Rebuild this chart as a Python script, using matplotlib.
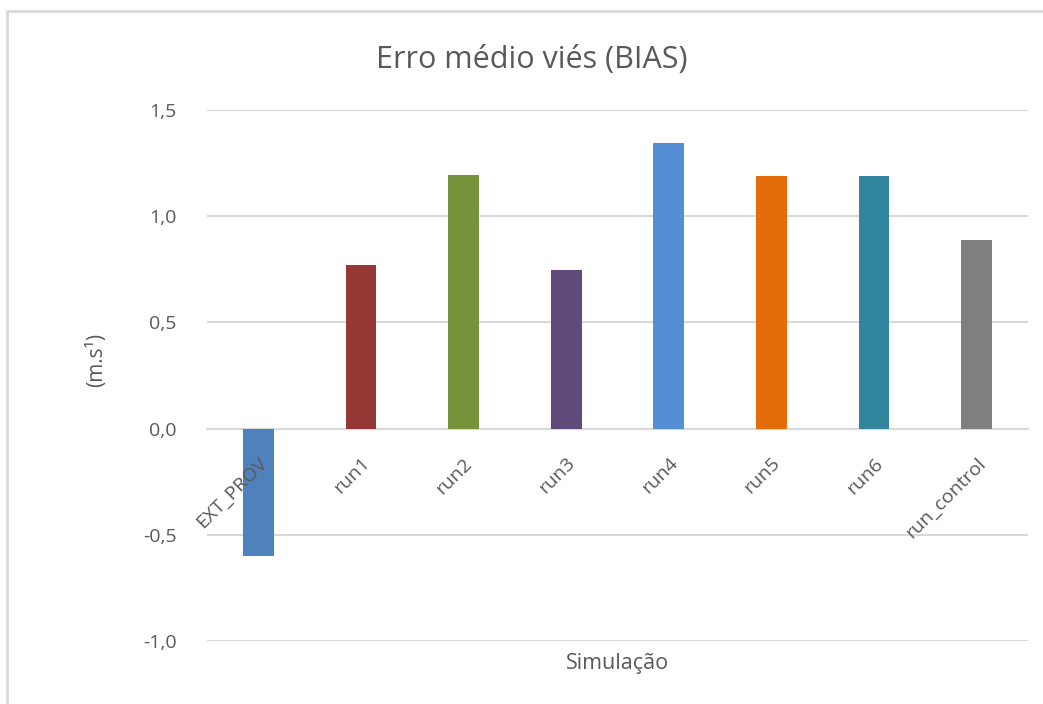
import matplotlib.pyplot as plt
from matplotlib.patches import Rectangle

# values
simulations = ['EXT_PROV', 'run1', 'run2', 'run3', 'run4', 'run5', 'run6', 'run_control']
bias = [-0.60, 0.77, 1.195, 0.748, 1.345, 1.19, 1.19, 0.889]
bar_colors = ['#4F81BD', '#953735', '#77933C', '#604A7B', '#558ED5', '#E46C0A', '#31859C', '#7F7F7F']
y_ticks = [-1.0, -0.5, 0.0, 0.5, 1.0, 1.5]

plt.rcParams['font.family'] = ['Open Sans', 'DejaVu Sans']
text_gray = '#595959'
grid_gray = '#D9D9D9'

fig = plt.figure(figsize=(10.43, 7.04), dpi=100)
ax = fig.add_axes([207 / 1043, 1 - 641 / 704, 821 / 1043, 531 / 704])

# outer chart frame (runs off the right and bottom edges)
fig.patches.append(Rectangle((7 / 1043, -0.1), 1.2, 1 - 11 / 704 + 0.1, transform=fig.transFigure,
                             fill=False, edgecolor=grid_gray, linewidth=2))

x = list(range(len(simulations)))
ax.bar(x, bias, width=0.30, color=bar_colors, zorder=3)

ax.set_xlim(-0.5, len(simulations) - 0.5)
ax.set_ylim(-1.0, 1.5)
ax.set_yticks(y_ticks)
ax.set_yticklabels([f'{v:.1f}'.replace('.', ',') for v in y_ticks])
ax.grid(axis='y', color=grid_gray, linewidth=1.5)
ax.set_axisbelow(True)
ax.xaxis.set_zorder(4)  # category labels sit on top of the bars

for side in ['top', 'right', 'left']:
    ax.spines[side].set_visible(False)
ax.spines['bottom'].set_position(('data', 0))
ax.spines['bottom'].set_color(grid_gray)
ax.spines['bottom'].set_linewidth(1.5)
ax.spines['bottom'].set_zorder(2)

ax.set_xticks([i + 0.06 for i in x])
ax.set_xticklabels(simulations, rotation=45, ha='right', va='center', rotation_mode='anchor')
ax.tick_params(axis='x', length=0, pad=23, labelsize=14, labelcolor=text_gray)
ax.tick_params(axis='y', length=0, pad=22, labelsize=14, labelcolor=text_gray)

ax.set_xlabel('Simulação', fontsize=15.5, color=text_gray)
ax.xaxis.set_label_coords(0.5, -0.022)
ax.set_ylabel('(m.s¹)', fontsize=15, color=text_gray)
ax.yaxis.set_label_coords(-0.122, 0.53)

fig.text(532 / 1043, 1 - 60 / 704, 'Erro médio viés (BIAS)', fontsize=22, color=text_gray,
         ha='center', va='center')

fig.savefig('out.png', dpi=100)
